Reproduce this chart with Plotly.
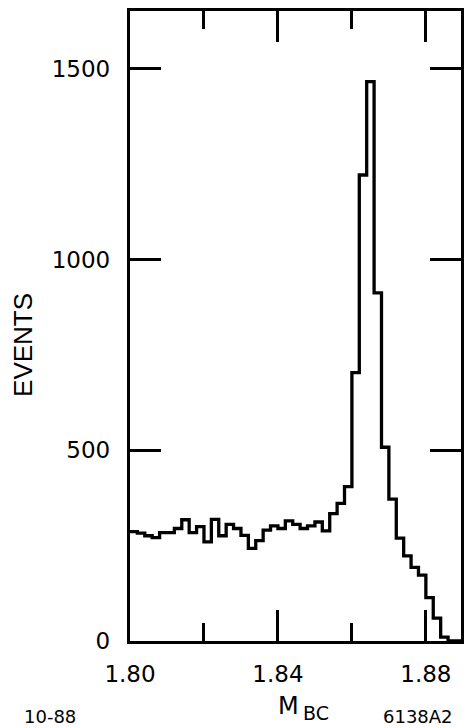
import plotly.graph_objects as go

# ---- data ----
bin_start = 1.800
bin_width = 0.002
counts = [287, 283, 276, 271, 284, 284, 295, 318, 284, 300,
          260, 319, 276, 306, 295, 277, 243, 263, 291, 302,
          295, 315, 306, 295, 302, 312, 289, 334, 361, 405,
          704, 1222, 1467, 913, 508, 372, 270, 223, 193, 173,
          114, 60, 10, 0, 0]
x_tickvals = [1.80, 1.84, 1.88]
x_ticktext = ["1.80", "1.84", "1.88"]
y_tickvals = [0, 500, 1000, 1500]
y_ticktext = ["0", "500", "1000", "1500"]

edges = [round(bin_start + i * bin_width, 4) for i in range(len(counts) + 1)]
ys = counts + [counts[-1]]

fig = go.Figure()
fig.add_trace(go.Scatter(
    x=edges, y=ys, mode="lines", line=dict(shape="hv", color="black", width=3.3),
    hoverinfo="skip", showlegend=False))

tick_font = dict(family="DejaVu Sans", size=23, color="black")

fig.update_layout(
    width=472, height=728,
    margin=dict(l=130, r=8, t=10, b=87),
    paper_bgcolor="white", plot_bgcolor="white",
    showlegend=False,
    xaxis=dict(
        range=[1.80, 1.8895], showgrid=False, zeroline=False,
        showline=True, linecolor="black", linewidth=3.4, mirror="ticks",
        ticks="inside", ticklen=31, tickwidth=3, tickcolor="black",
        tickvals=x_tickvals, ticktext=x_ticktext, tickfont=tick_font,
        ticklabelstandoff=10,
        minor=dict(ticks="inside", ticklen=18, tickwidth=3, tickcolor="black",
                   dtick=0.02, tick0=1.80, showgrid=False),
    ),
    yaxis=dict(
        range=[0, 1652], showgrid=False, zeroline=False,
        showline=True, linecolor="black", linewidth=3.4, mirror="ticks",
        ticks="inside", ticklen=31, tickwidth=3, tickcolor="black",
        tickvals=y_tickvals, ticktext=y_ticktext, tickfont=tick_font,
        ticklabelstandoff=12,
    ),
)

def px_x(px):
    return (px - 130) / 334.0

def px_y(py):
    return (641 - py) / 631.0

anns = [
    dict(text="EVENTS", x=px_x(22.5), y=px_y(344), textangle=-90,
         font=dict(family="Liberation Sans", size=26, color="black")),
    dict(text="10-88", x=px_x(49.5), y=px_y(717),
         font=dict(family="DejaVu Sans", size=18, color="black")),
    dict(text="M", x=px_x(289.5), y=px_y(706),
         font=dict(family="DejaVu Sans", size=24, color="black")),
    dict(text="BC", x=px_x(318), y=px_y(713),
         font=dict(family="DejaVu Sans", size=19, color="black")),
    dict(text="6138A2", x=px_x(421), y=px_y(717),
         font=dict(family="DejaVu Sans", size=18, color="black")),
]
for a in anns:
    fig.add_annotation(xref="paper", yref="paper", showarrow=False,
                       xanchor="center", yanchor="middle", **a)

fig.write_html("out.html")
